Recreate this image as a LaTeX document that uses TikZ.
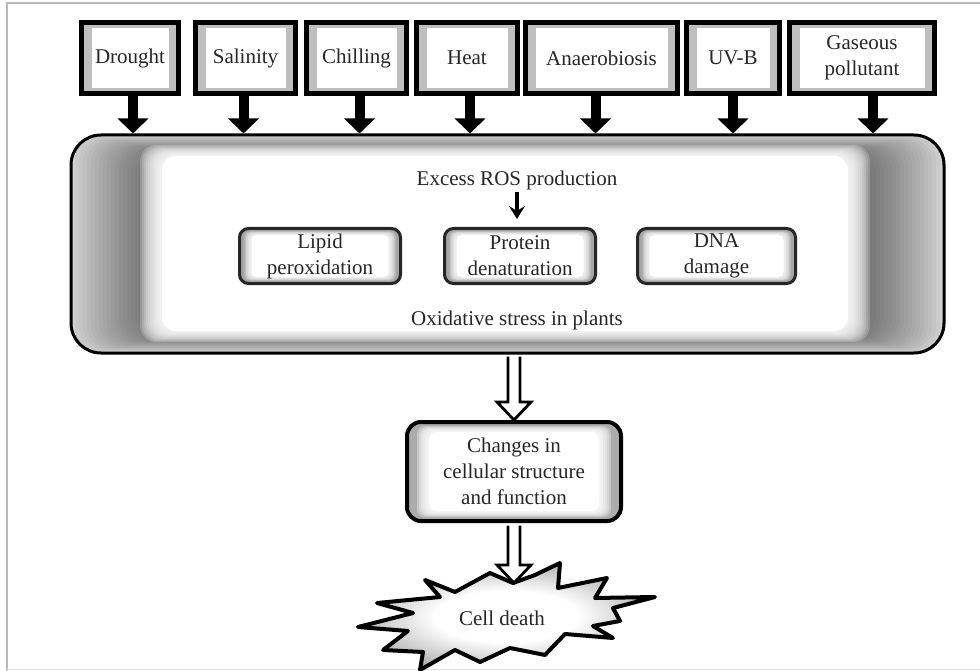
\documentclass[tikz,border=0pt]{standalone}
\usepackage{fontspec}
\setmainfont{Liberation Serif}
\usetikzlibrary{arrows.meta,calc}
\pgfdeclareradialshading{burst}{\pgfpoint{0bp}{0bp}}{color(0bp)=(white); color(12bp)=(white); color(26bp)=(gray!60); color(50bp)=(gray!60)}
\begin{document}
\begin{tikzpicture}[x=1pt,y=-1pt,
  txt/.style={font=\fontsize{21}{26}\selectfont, text=black!85, align=center, inner sep=0pt},
  topbox/.style={txt, draw=black, line width=5pt, minimum height=71pt, minimum width=#1,
    path picture={\fill[gray!50] (path picture bounding box.south west) rectangle (path picture bounding box.north east);
      \fill[white] ([shift={(10pt,5.5pt)}]path picture bounding box.south west) rectangle ([shift={(-10pt,-5.5pt)}]path picture bounding box.north east);}},
  mainbox/.style={draw=black, line width=3pt, rounded corners=30pt, minimum width=873pt, minimum height=218pt, inner sep=0pt,
    path picture={
      \fill[gray!36] (path picture bounding box.south west) rectangle (path picture bounding box.north east);
      \foreach \k in {1,...,20}{\fill[black,opacity=0.027,rounded corners=24pt] ([shift={({4*\k*1pt},{0.9*\k*1pt})}]path picture bounding box.south west) rectangle ([shift={({-4*\k*1pt},{-0.9*\k*1pt})}]path picture bounding box.north east);}
      \foreach \d in {-20,-18,...,0}{\fill[white,opacity=0.2,rounded corners=16pt] ([shift={({(89+\d)*1pt},{(21+\d/2)*1pt})}]path picture bounding box.south west) rectangle ([shift={({-(94+\d)*1pt},{-(20+\d/2)*1pt})}]path picture bounding box.north east);}
      \fill[white,rounded corners=14pt] ([shift={(91pt,22pt)}]path picture bounding box.south west) rectangle ([shift={(-96pt,-21pt)}]path picture bounding box.north east);
    }},
  innerbox/.style={txt, draw=black!85, line width=3pt, rounded corners=9pt, minimum height=55pt, minimum width=#1,
    path picture={\fill[gray!70] (path picture bounding box.south west) rectangle (path picture bounding box.north east);
      \foreach \d in {0,1.5,...,6}{\fill[white,opacity=0.3,rounded corners=5pt] ([shift={({(5+\d)*1pt},{(3+\d/2)*1pt})}]path picture bounding box.south west) rectangle ([shift={({-(5+\d)*1pt},{-(3+\d/2)*1pt})}]path picture bounding box.north east);}
      \fill[white,rounded corners=5pt] ([shift={(12pt,6.5pt)}]path picture bounding box.south west) rectangle ([shift={(-12pt,-6.5pt)}]path picture bounding box.north east);}},
  chgbox/.style={txt, draw=black, line width=4pt, rounded corners=14pt, minimum width=214pt, minimum height=99pt,
    path picture={\fill[gray!65] (path picture bounding box.south west) rectangle (path picture bounding box.north east);
      \foreach \d in {0,2,...,10}{\fill[white,opacity=0.3,rounded corners=8pt] ([shift={({(10+\d)*1pt},{(4+\d/2)*1pt})}]path picture bounding box.south west) rectangle ([shift={({-(10+\d)*1pt},{-(4+\d/2)*1pt})}]path picture bounding box.north east);}
      \fill[white,rounded corners=8pt] ([shift={(22pt,10pt)}]path picture bounding box.south west) rectangle ([shift={(-22pt,-10pt)}]path picture bounding box.north east);}},
  bigarrow/.style={draw=black, line width=10pt, -{Triangle[width=30pt,length=15pt]}},
  smallarrow/.style={draw=black, line width=3.5pt, -{Stealth[width=16pt,length=13pt,inset=5pt]}},
  hollow/.style={draw=black, line width=2.8pt, fill=white, line join=miter},
]
\useasboundingbox (0,0) rectangle (980,671);
\fill[white] (0,0) rectangle (980,671);
% frame
\draw[gray!55, line width=1.5pt] (7,671) -- (7,3) -- (980,3);
\draw[gray!20, line width=1pt] (7,669) -- (980,669);

% stress factor boxes
\node[topbox=97pt]  (d1) at (130,58)   {Drought};
\node[topbox=100pt] (d2) at (245.5,58) {Salinity};
\node[topbox=100pt] (d3) at (356.5,58) {Chilling};
\node[topbox=101pt] (d4) at (467,58)   {Heat};
\node[topbox=152pt] (d5) at (601.5,58) {Anaerobiosis};
\node[topbox=93pt]  (d6) at (733,58)   {UV-B};
\node[topbox=145pt] (d7) at (862,58)   {Gaseous\\pollutant};

% main oxidative stress box
\node[mainbox] (main) at (507.5,244) {};

\foreach \n/\s in {d1/3,d2/-2,d3/3,d4/3,d5/-6,d6/0,d7/11}{
  \draw[bigarrow] ([xshift=\s pt]\n.south) -- ([xshift=\s pt]\n.south |- main.north);
}

\node[txt] (ros) at (517,180) {Excess ROS production};
\node[innerbox=161pt] (lip)  at (320,256)   {Lipid\\peroxidation};
\node[innerbox=151pt] (prot) at (520,256)   {Protein\\denaturation};
\node[innerbox=158pt] (dna)  at (716.5,256) {DNA\\damage};
\node[txt] (oxi) at (517,320) {Oxidative stress in plants};
\draw[smallarrow] ([yshift=-2pt]ros.south) -- ($(ros.south |- prot.north)+(0,-8)$);

% changes box
\node[chgbox] (chg) at (514,471.5) {Changes in\\cellular structure\\and function};

% starburst
\coordinate (cdtop) at (513,583);
\shadedraw[shading=burst, draw=black, line width=4pt, line join=round]
  (425,580) -- (455,592) -- (490,573) -- (cdtop) -- (535,575) -- (560,563) -- (558,588)
  -- (607,578) -- (595,598) -- (655,597) -- (613,608) -- (620,621) -- (593,626)
  -- (613,638) -- (565,634) -- (545,655) -- (510,648) -- (480,662) -- (455,650)
  -- (420,670) -- (423,652) -- (383,650) -- (408,631) -- (358,627) -- (413,613)
  -- (377,603) -- (440,597) -- cycle;
\node[txt] (cd) at (502,618) {Cell death};

% hollow arrows
\draw[hollow] let \p1=(main.south), \p2=(chg.north) in
  (\x2-6pt,\y1-2pt) -- (\x2-6pt,\y2+18pt) -- (\x2-17pt,\y2+18pt) -- (\x2,\y2)
  -- (\x2+17pt,\y2+18pt) -- (\x2+6pt,\y2+18pt) -- (\x2+6pt,\y1-2pt);
\draw[hollow] let \p1=(chg.south), \p2=(cdtop) in
  (\x1-6pt,\y1-2.5pt) -- (\x1-6pt,\y2+18pt) -- (\x1-17pt,\y2+18pt) -- (\x1,\y2)
  -- (\x1+17pt,\y2+18pt) -- (\x1+6pt,\y2+18pt) -- (\x1+6pt,\y1-2.5pt);
\end{tikzpicture}
\end{document}
